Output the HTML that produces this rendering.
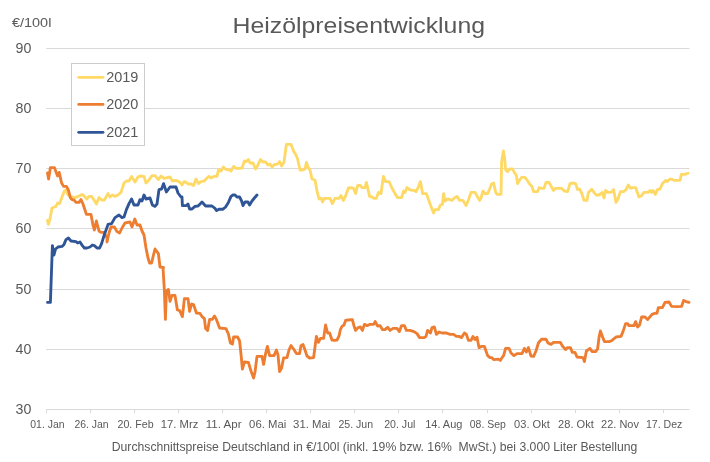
<!DOCTYPE html>
<html lang="de"><head><meta charset="utf-8"><title>Heizölpreisentwicklung</title>
<style>html,body{margin:0;padding:0;background:#fff}body{width:710px;height:462px;overflow:hidden}</style></head>
<body>
<svg width="710" height="462" viewBox="0 0 710 462" style="display:block;font-family:'Liberation Sans',sans-serif">
<rect width="710" height="462" fill="#fff"/>
<line x1="46.3" x2="689.5" y1="48.5" y2="48.5" stroke="#d9d9d9" stroke-width="1"/>
<line x1="46.3" x2="689.5" y1="108.5" y2="108.5" stroke="#d9d9d9" stroke-width="1"/>
<line x1="46.3" x2="689.5" y1="168.5" y2="168.5" stroke="#d9d9d9" stroke-width="1"/>
<line x1="46.3" x2="689.5" y1="228.5" y2="228.5" stroke="#d9d9d9" stroke-width="1"/>
<line x1="46.3" x2="689.5" y1="289.5" y2="289.5" stroke="#d9d9d9" stroke-width="1"/>
<line x1="46.3" x2="689.5" y1="349.5" y2="349.5" stroke="#d9d9d9" stroke-width="1"/>
<line x1="46.3" x2="689.5" y1="409.5" y2="409.5" stroke="#d9d9d9" stroke-width="1"/>
<line x1="46.5" x2="46.5" y1="409.5" y2="413.0" stroke="#d9d9d9" stroke-width="1"/>
<line x1="90.5" x2="90.5" y1="409.5" y2="413.0" stroke="#d9d9d9" stroke-width="1"/>
<line x1="134.5" x2="134.5" y1="409.5" y2="413.0" stroke="#d9d9d9" stroke-width="1"/>
<line x1="178.5" x2="178.5" y1="409.5" y2="413.0" stroke="#d9d9d9" stroke-width="1"/>
<line x1="222.5" x2="222.5" y1="409.5" y2="413.0" stroke="#d9d9d9" stroke-width="1"/>
<line x1="266.5" x2="266.5" y1="409.5" y2="413.0" stroke="#d9d9d9" stroke-width="1"/>
<line x1="310.5" x2="310.5" y1="409.5" y2="413.0" stroke="#d9d9d9" stroke-width="1"/>
<line x1="354.5" x2="354.5" y1="409.5" y2="413.0" stroke="#d9d9d9" stroke-width="1"/>
<line x1="398.5" x2="398.5" y1="409.5" y2="413.0" stroke="#d9d9d9" stroke-width="1"/>
<line x1="442.5" x2="442.5" y1="409.5" y2="413.0" stroke="#d9d9d9" stroke-width="1"/>
<line x1="487.5" x2="487.5" y1="409.5" y2="413.0" stroke="#d9d9d9" stroke-width="1"/>
<line x1="531.5" x2="531.5" y1="409.5" y2="413.0" stroke="#d9d9d9" stroke-width="1"/>
<line x1="575.5" x2="575.5" y1="409.5" y2="413.0" stroke="#d9d9d9" stroke-width="1"/>
<line x1="619.5" x2="619.5" y1="409.5" y2="413.0" stroke="#d9d9d9" stroke-width="1"/>
<line x1="663.5" x2="663.5" y1="409.5" y2="413.0" stroke="#d9d9d9" stroke-width="1"/>
<text x="232.6" y="32.7" font-size="22.6" fill="#595959" textLength="252.4" lengthAdjust="spacingAndGlyphs">Heizölpreisentwicklung</text>
<text x="11.9" y="26.8" font-size="12" fill="#595959" textLength="39.5" lengthAdjust="spacingAndGlyphs">€/100l</text>
<text x="31.4" y="53.4" text-anchor="end" font-size="14.2" fill="#595959">90</text>
<text x="31.4" y="113.4" text-anchor="end" font-size="14.2" fill="#595959">80</text>
<text x="31.4" y="173.4" text-anchor="end" font-size="14.2" fill="#595959">70</text>
<text x="31.4" y="233.4" text-anchor="end" font-size="14.2" fill="#595959">60</text>
<text x="31.4" y="294.4" text-anchor="end" font-size="14.2" fill="#595959">50</text>
<text x="31.4" y="354.4" text-anchor="end" font-size="14.2" fill="#595959">40</text>
<text x="31.4" y="414.4" text-anchor="end" font-size="14.2" fill="#595959">30</text>
<text x="30.3" y="428.2" font-size="10.9" fill="#595959" textLength="34.2" lengthAdjust="spacingAndGlyphs">01. Jan</text>
<text x="74.4" y="428.2" font-size="10.9" fill="#595959" textLength="34.2" lengthAdjust="spacingAndGlyphs">26. Jan</text>
<text x="117.5" y="428.2" font-size="10.9" fill="#595959" textLength="36.1" lengthAdjust="spacingAndGlyphs">20. Feb</text>
<text x="160.8" y="428.2" font-size="10.9" fill="#595959" textLength="37.5" lengthAdjust="spacingAndGlyphs">17. Mrz</text>
<text x="205.8" y="428.2" font-size="10.9" fill="#595959" textLength="35.7" lengthAdjust="spacingAndGlyphs">11. Apr</text>
<text x="249.1" y="428.2" font-size="10.9" fill="#595959" textLength="37.1" lengthAdjust="spacingAndGlyphs">06. Mai</text>
<text x="293.1" y="428.2" font-size="10.9" fill="#595959" textLength="37.1" lengthAdjust="spacingAndGlyphs">31. Mai</text>
<text x="338.4" y="428.2" font-size="10.9" fill="#595959" textLength="34.7" lengthAdjust="spacingAndGlyphs">25. Jun</text>
<text x="384.2" y="428.2" font-size="10.9" fill="#595959" textLength="31.2" lengthAdjust="spacingAndGlyphs">20. Jul</text>
<text x="425.2" y="428.2" font-size="10.9" fill="#595959" textLength="37.2" lengthAdjust="spacingAndGlyphs">14. Aug</text>
<text x="469.8" y="428.2" font-size="10.9" fill="#595959" textLength="36.1" lengthAdjust="spacingAndGlyphs">08. Sep</text>
<text x="514.1" y="428.2" font-size="10.9" fill="#595959" textLength="35.7" lengthAdjust="spacingAndGlyphs">03. Okt</text>
<text x="558.1" y="428.2" font-size="10.9" fill="#595959" textLength="35.7" lengthAdjust="spacingAndGlyphs">28. Okt</text>
<text x="601.1" y="428.2" font-size="10.9" fill="#595959" textLength="37.8" lengthAdjust="spacingAndGlyphs">22. Nov</text>
<text x="645.9" y="428.2" font-size="10.9" fill="#595959" textLength="36.4" lengthAdjust="spacingAndGlyphs">17. Dez</text>
<text x="111.8" y="451" font-size="12.2" fill="#595959" textLength="525.5" lengthAdjust="spacingAndGlyphs" xml:space="preserve" style="white-space:pre">Durchschnittspreise Deutschland in €/100l (inkl. 19% bzw. 16%  MwSt.) bei 3.000 Liter Bestellung</text>
<polyline fill="none" stroke="#FFD966" stroke-width="2.85" stroke-linejoin="round" stroke-linecap="round" points="47.5,220.4 48.4,224.4 50.0,219.0 52.0,208.0 54.4,207.0 56.0,206.4 57.6,203.0 59.6,203.6 62.0,197.0 64.4,191.0 66.0,190.0 68.0,195.0 72.0,197.0 75.0,197.6 78.0,196.4 82.0,194.4 84.4,196.4 87.0,199.0 89.0,196.4 91.6,196.4 94.0,200.0 96.4,204.0 99.0,197.6 101.6,200.0 104.4,200.0 108.0,193.6 110.0,197.0 112.4,195.0 115.0,196.4 118.0,195.0 121.0,192.4 124.0,183.0 126.4,181.0 129.0,181.0 131.6,176.4 135.0,182.0 138.0,177.0 140.0,176.0 144.0,176.4 146.0,183.0 149.0,180.0 152.0,175.6 155.0,175.6 158.4,179.6 161.0,176.0 164.0,178.4 167.0,177.6 170.0,177.0 172.4,181.0 176.0,180.4 179.0,181.6 181.6,184.0 182.0,185.0 184.0,181.6 186.4,182.4 188.0,184.0 191.0,184.0 193.6,185.6 196.0,179.0 198.4,183.6 201.0,181.6 204.0,181.2 207.0,178.0 209.0,176.4 211.0,178.0 214.0,176.4 217.0,176.4 218.6,169.6 221.0,171.0 223.4,167.0 226.0,169.6 228.4,169.6 231.0,171.0 233.6,166.4 236.0,168.4 239.0,168.4 242.0,168.0 244.4,161.0 246.4,161.6 248.4,159.6 250.0,163.0 253.0,163.0 255.6,169.0 257.6,165.6 260.4,159.6 263.0,162.0 265.6,162.0 268.0,165.0 270.0,164.0 272.0,167.0 274.4,164.4 277.0,164.4 279.6,161.6 281.6,166.0 284.0,162.0 286.4,144.4 291.0,144.4 293.6,151.0 296.0,155.0 297.6,159.0 300.0,170.0 303.0,170.0 305.0,169.0 306.4,162.4 308.4,168.0 310.0,170.0 312.0,179.0 315.0,180.0 317.0,191.0 319.0,199.0 321.0,198.0 322.6,202.0 324.0,198.4 330.0,198.4 332.4,203.6 335.0,198.4 339.0,198.4 341.0,195.6 343.4,200.4 345.6,196.0 348.4,188.0 351.0,187.6 353.6,188.4 355.6,193.6 357.6,185.6 360.0,185.2 362.0,187.6 365.0,187.6 366.4,182.4 369.6,196.4 372.0,197.0 374.0,198.4 376.4,198.4 378.4,192.4 381.0,193.6 383.4,176.4 385.6,181.6 389.0,181.6 392.0,188.0 395.0,193.6 397.6,197.6 401.6,197.6 403.6,191.0 405.0,192.4 407.0,187.6 409.6,189.6 412.0,190.4 414.4,190.4 416.0,191.6 418.0,188.0 420.4,181.6 422.6,193.6 426.4,193.6 429.0,201.0 431.6,208.0 433.6,213.0 435.0,209.6 438.4,209.6 440.4,205.0 442.4,204.4 443.6,193.6 445.0,201.0 447.6,199.0 450.0,199.6 452.0,200.4 454.4,198.0 457.0,196.4 459.6,200.4 463.0,200.4 466.0,205.6 468.4,200.0 471.0,192.4 475.0,192.4 477.0,196.0 479.6,200.4 481.0,198.0 483.0,191.0 485.0,193.6 487.6,193.6 489.6,189.0 491.6,184.0 493.6,183.0 495.6,192.0 497.0,194.4 501.0,194.4 501.6,162.0 503.4,151.0 504.6,158.0 505.6,170.0 507.6,171.6 509.6,169.0 512.4,169.0 514.4,172.4 516.4,175.6 517.6,183.6 519.6,180.0 521.6,177.4 525.0,177.4 527.0,180.0 529.6,184.0 532.0,186.4 533.6,191.6 537.6,191.6 539.0,187.6 541.6,188.4 544.0,188.4 546.0,182.4 549.0,182.4 551.0,186.0 553.4,190.4 555.6,188.4 561.6,188.4 564.4,191.0 567.6,191.6 570.0,183.6 573.0,183.0 575.6,183.6 577.6,189.6 579.6,189.0 581.6,193.0 584.0,200.4 587.0,200.4 588.4,192.4 591.6,189.2 594.0,192.4 596.0,195.0 599.0,195.0 602.4,192.4 604.0,198.0 605.6,190.4 608.0,192.4 611.0,192.4 613.6,189.6 616.0,202.4 618.0,199.0 620.4,191.6 623.6,191.6 626.0,189.6 628.4,185.0 630.4,188.4 632.4,187.6 635.6,187.6 639.0,197.0 641.6,195.6 644.0,192.4 648.0,192.4 650.0,190.4 651.6,192.4 653.0,190.4 655.4,194.4 657.4,189.6 660.0,189.0 662.4,183.6 665.6,180.4 667.0,181.6 669.6,179.2 672.0,179.2 674.4,180.4 680.0,180.4 681.4,174.4 685.0,174.4 688.0,173.2"/>
<polyline fill="none" stroke="#ED7D31" stroke-width="2.85" stroke-linejoin="round" stroke-linecap="round" points="47.5,173.0 48.6,179.0 50.4,167.6 54.4,167.6 56.4,173.0 57.6,176.0 59.2,172.4 61.6,183.0 63.6,186.4 66.4,186.4 68.4,190.0 70.4,198.0 72.0,199.6 74.0,200.0 76.0,202.4 79.0,202.4 81.0,199.6 83.0,204.0 85.0,210.0 86.4,214.4 91.0,214.4 93.0,225.0 94.4,230.0 96.4,221.0 99.0,231.0 101.0,232.4 104.0,232.4 107.0,238.0 107.0,242.0 109.0,233.0 111.0,227.0 114.4,227.0 117.0,231.6 119.6,233.0 122.0,228.0 125.0,223.0 128.0,222.4 130.0,222.0 132.0,227.0 134.8,219.0 137.0,225.0 140.0,225.0 142.0,231.0 144.0,235.0 146.0,248.0 148.0,258.0 149.6,263.0 151.6,263.0 153.0,257.0 155.0,249.0 158.4,253.6 160.0,267.0 163.6,267.6 163.0,267.4 164.4,291.0 165.4,319.4 166.4,291.0 168.4,289.4 170.0,301.4 172.0,295.4 175.0,295.4 177.4,310.0 179.6,310.6 182.4,316.6 184.4,298.6 188.0,298.6 189.6,311.4 191.6,304.0 193.6,304.6 196.4,313.0 200.0,313.4 202.0,316.6 204.4,318.6 205.6,328.6 207.6,330.6 209.6,319.4 212.4,319.4 214.4,316.0 216.4,319.4 219.6,328.0 226.0,328.6 228.4,334.0 230.4,343.0 232.4,344.0 233.6,337.0 237.6,337.0 239.6,341.0 239.6,341.0 241.0,354.0 242.4,369.0 244.4,362.0 248.4,362.4 251.0,371.0 253.6,378.0 255.0,372.0 257.0,356.4 262.0,356.4 263.6,364.4 265.6,353.6 267.4,346.4 269.6,355.6 274.0,355.6 276.4,350.0 278.0,355.0 279.6,371.6 281.6,368.0 283.6,358.0 287.0,357.6 289.0,350.0 291.0,345.6 293.6,349.0 296.4,353.6 299.6,353.6 301.0,345.6 303.0,344.4 305.0,350.0 307.0,356.0 309.6,358.0 313.6,357.6 315.0,347.0 316.4,336.4 318.4,342.4 320.4,338.4 323.6,338.4 325.6,325.0 327.6,333.0 329.6,333.0 332.0,340.0 334.4,340.4 337.0,340.0 339.0,336.0 340.4,329.6 342.0,326.4 344.0,325.0 345.6,320.4 348.0,320.0 352.4,319.6 354.0,326.0 355.6,330.4 358.0,327.6 360.4,327.0 362.4,330.4 364.4,324.4 367.0,325.6 370.0,324.4 372.0,324.4 373.6,324.4 375.2,321.6 377.6,326.0 380.0,325.6 382.4,329.6 385.0,329.6 387.6,327.2 390.0,330.4 393.0,328.4 397.0,328.4 399.4,331.6 401.6,325.6 404.4,325.6 406.4,330.4 410.0,330.4 414.0,331.6 417.0,333.6 419.6,337.6 424.4,337.6 426.0,336.4 427.6,330.4 430.4,333.0 432.0,327.6 434.4,327.0 436.4,334.4 439.0,332.0 442.0,333.0 446.4,333.0 450.0,334.4 453.6,334.4 456.4,336.4 459.0,336.4 461.6,337.6 464.4,333.0 466.4,334.4 468.4,340.4 471.0,340.4 473.0,336.4 475.0,339.6 477.0,337.2 479.0,347.6 481.6,346.4 484.4,346.4 486.0,351.0 487.6,355.6 490.0,357.6 491.6,357.6 493.6,359.6 498.4,359.2 500.4,360.4 502.0,357.6 503.6,355.6 505.6,348.4 509.0,348.4 511.0,353.0 514.0,355.6 517.0,353.6 522.0,353.6 524.4,348.4 526.4,352.0 528.4,347.6 531.0,356.0 533.6,356.4 536.0,351.0 538.4,343.0 541.6,339.2 546.0,339.2 548.0,343.0 551.0,344.4 553.6,342.4 560.4,342.4 562.4,346.0 565.6,349.6 567.6,347.6 570.4,347.6 572.4,352.4 575.0,352.4 577.0,357.0 583.0,357.6 584.4,361.6 586.4,351.0 590.0,348.4 592.0,351.6 595.6,351.6 597.6,349.0 599.0,337.6 600.4,331.0 602.4,336.4 604.4,341.6 609.6,341.6 612.0,340.4 616.0,337.0 621.0,336.4 623.0,331.6 625.6,323.6 627.6,323.6 629.0,325.6 634.0,325.6 635.6,321.6 637.6,327.0 639.6,325.0 641.6,317.0 645.0,317.0 647.6,319.6 652.0,314.4 654.0,313.6 656.0,313.2 657.0,313.2 658.4,307.6 662.4,307.6 665.0,302.4 669.0,302.0 671.6,306.4 677.0,306.6 681.6,306.4 683.6,300.4 686.0,301.6 689.0,302.4"/>
<polyline fill="none" stroke="#2F5597" stroke-width="2.85" stroke-linejoin="round" stroke-linecap="round" points="47.5,302.4 50.4,302.4 52.4,245.6 54.0,255.0 55.6,249.0 58.0,247.0 62.0,246.4 64.0,244.4 66.0,239.6 68.4,238.0 71.0,241.0 76.0,241.6 77.6,243.0 80.0,242.0 82.4,245.6 84.4,248.0 87.0,248.0 90.0,247.0 92.4,245.0 94.4,245.6 97.0,248.0 99.6,248.0 101.6,243.6 104.0,235.6 107.0,227.6 108.0,224.4 111.6,223.6 115.0,217.6 119.0,215.0 122.0,217.6 124.0,217.0 126.4,209.6 129.0,203.6 131.6,199.0 134.0,205.0 138.0,205.0 140.0,199.6 142.0,201.0 144.0,195.0 146.0,199.0 150.0,198.0 152.4,205.0 155.0,206.4 157.0,204.0 159.0,189.6 161.6,189.0 163.6,183.6 166.4,192.0 170.0,187.0 176.0,187.0 178.0,193.0 181.0,197.0 182.0,197.0 182.4,205.6 186.4,205.6 188.0,204.0 189.6,209.0 192.0,209.0 195.0,206.4 198.0,206.0 199.6,204.4 202.0,202.0 205.6,206.0 212.0,206.0 215.0,208.4 216.6,210.6 219.0,209.2 223.0,209.2 225.6,207.0 228.4,202.4 231.0,196.4 233.0,195.0 235.0,195.0 237.0,197.0 239.6,197.0 241.6,201.0 243.0,205.6 245.0,202.0 248.0,202.0 249.6,205.0 252.0,201.0 254.4,198.0 257.0,195.0"/>
<rect x="71.5" y="63.5" width="73" height="82" fill="#fff" stroke="#cdcbcb" stroke-width="1"/>
<line x1="78.7" x2="103.0" y1="77.3" y2="77.3" stroke="#FFD966" stroke-width="2.8" stroke-linecap="round"/>
<text x="106.2" y="82.2" font-size="14.2" textLength="32.2" lengthAdjust="spacingAndGlyphs" fill="#595959">2019</text>
<line x1="78.7" x2="103.0" y1="104.4" y2="104.4" stroke="#ED7D31" stroke-width="2.8" stroke-linecap="round"/>
<text x="106.2" y="109.3" font-size="14.2" textLength="32.2" lengthAdjust="spacingAndGlyphs" fill="#595959">2020</text>
<line x1="78.7" x2="103.0" y1="132.3" y2="132.3" stroke="#2F5597" stroke-width="2.8" stroke-linecap="round"/>
<text x="106.2" y="137.2" font-size="14.2" textLength="32.2" lengthAdjust="spacingAndGlyphs" fill="#595959">2021</text>
</svg>
</body></html>
